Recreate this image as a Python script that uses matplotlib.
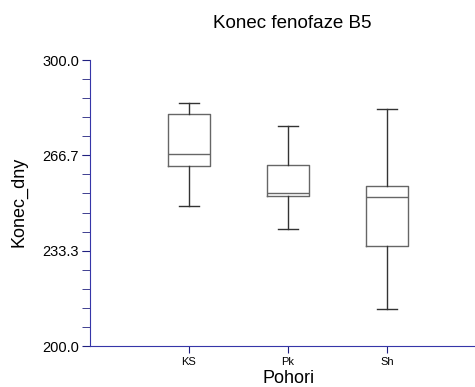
import matplotlib
matplotlib.use("Agg")
import matplotlib.pyplot as plt
import numpy as np

plt.rcParams['font.family'] = ['Liberation Sans', 'DejaVu Sans']

groups = ["KS", "Pk", "Sh"]
whislo = [248.8, 240.9, 212.8]
q1 = [262.8, 252.6, 235.0]
med = [267.0, 253.6, 252.1]
q3 = [281.0, 263.2, 255.8]
whishi = [284.9, 276.9, 283.0]

yticks = [200.0, 233.3, 266.7, 300.0]

stats = []
for i, g in enumerate(groups):
    stats.append(dict(label=g, whislo=whislo[i], q1=q1[i], med=med[i],
                      q3=q3[i], whishi=whishi[i], fliers=[]))

fig = plt.figure(figsize=(4.75, 3.87), dpi=100)
ax = fig.add_axes([90 / 475, 41 / 387, 385 / 475, 286 / 387])

line_c = "#666666"
ax.bxp(stats, positions=[1, 2, 3], widths=0.42, capwidths=0.21,
       showfliers=False,
       boxprops=dict(color=line_c, lw=1.0),
       medianprops=dict(color=line_c, lw=1.0),
       whiskerprops=dict(color="#333333", lw=1.0),
       capprops=dict(color="#333333", lw=1.0))

axis_c = "#3636a8"
ax.set_xlim(0, 3.89)
ax.set_ylim(200, 300)
ax.spines["top"].set_visible(False)
ax.spines["right"].set_visible(False)
ax.spines["left"].set_color(axis_c)
ax.spines["bottom"].set_color(axis_c)

ax.set_yticks(yticks)
ax.set_yticklabels([f"{v:.1f}" for v in yticks], fontsize=10.5)
ax.set_yticks(np.linspace(200, 300, 16), minor=True)
ax.tick_params(axis="y", which="major", direction="out", length=6, pad=2, color="#202080")
ax.tick_params(axis="y", which="minor", direction="out", length=6, color="#202080")
ax.tick_params(axis="x", direction="out", length=5, pad=3, color="#202080", labelsize=8)
ax.set_xticks([1, 2, 3])
ax.set_xticklabels(groups)

fig.text(292 / 475, 1 - 23 / 387, "Konec fenofaze B5", ha="center", va="center", fontsize=13.5)
fig.text(289 / 475, 1 - 383 / 387, "Pohori", ha="center", va="baseline", fontsize=13)
fig.text(19 / 475, 1 - 202 / 387, "Konec_dny", ha="center", va="center", rotation=90, fontsize=13)

fig.savefig("out.png", dpi=100)
